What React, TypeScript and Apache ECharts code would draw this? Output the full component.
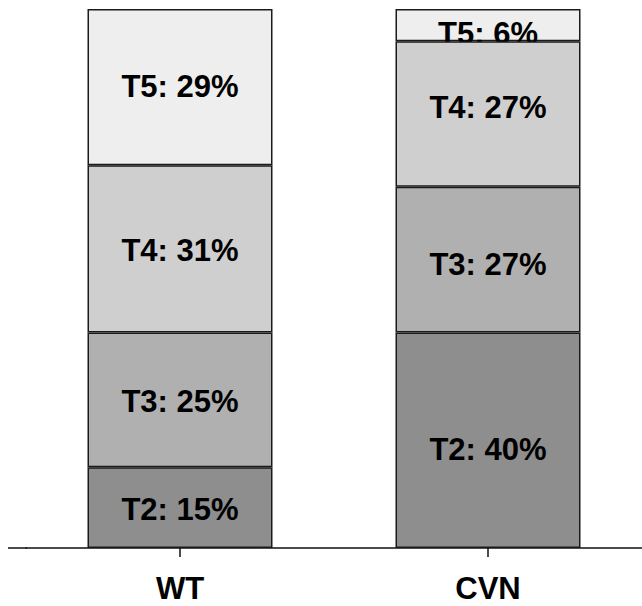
import React, { useEffect, useRef } from "react";
import * as echarts from "echarts";

const categories = ["WT", "CVN"];
const seriesNames = ["T2", "T3", "T4", "T5"];
const t2Values = [15, 40];
const t3Values = [25, 27];
const t4Values = [31, 27];
const t5Values = [29, 6];

const seriesColors = ["#8e8e8e", "#b0b0b0", "#cfcfcf", "#eeeeee"];
// vertical label nudges (px) per series, per category
const labelNudges = [
  [2, 9],
  [2, 5],
  [2, -7],
  [-1, 8],
];

export default function App() {
  const ref = useRef<HTMLDivElement>(null);
  useEffect(() => {
    if (!ref.current) return;
    const chart = echarts.init(ref.current, null, { renderer: "svg" });
    const allValues = [t2Values, t3Values, t4Values, t5Values];
    const series = seriesNames.map((name, si) => ({
      name,
      type: "bar",
      stack: "total",
      barWidth: 185,
      z: si === 3 ? 1 : 2,
      itemStyle: {
        color: seriesColors[si],
        borderColor: "#1a1a1a",
        borderWidth: 1.5,
      },
      data: allValues[si].map((v, ci) => ({
        value: v,
        label: { offset: [0, labelNudges[si][ci]] },
      })),
      label: {
        show: true,
        position: "inside",
        formatter: (p: any) => `${p.seriesName}: ${p.value}%`,
        color: "#000",
        fontSize: 31,
        fontWeight: "bold",
        fontFamily: "Liberation Sans, Arial, sans-serif",
      },
    }));
    chart.setOption({
      animation: false,
      backgroundColor: "#fff",
      grid: { left: 26, width: 618, top: 9, bottom: 58 },
      xAxis: {
        type: "category",
        data: categories,
        axisLine: { lineStyle: { color: "#111", width: 1.5 } },
        axisTick: {
          show: true,
          alignWithLabel: true,
          interval: 0,
          length: 9,
          lineStyle: { color: "#111", width: 1.5 },
        },
        axisLabel: {
          color: "#000",
          fontSize: 31,
          fontWeight: "bold",
          fontFamily: "Liberation Sans, Arial, sans-serif",
          margin: 25,
        },
      },
      yAxis: { type: "value", min: 0, max: 100, show: false },
      graphic: [
        {
          type: "line",
          shape: { x1: 8, y1: 548, x2: 27, y2: 548 },
          style: { stroke: "#111", lineWidth: 1.5 },
        },
      ],
      series,
    });
    return () => chart.dispose();
  }, []);
  return (
    <div
      ref={ref}
      style={{ position: "fixed", left: 0, top: 0, width: 642, height: 606 }}
    />
  );
}
